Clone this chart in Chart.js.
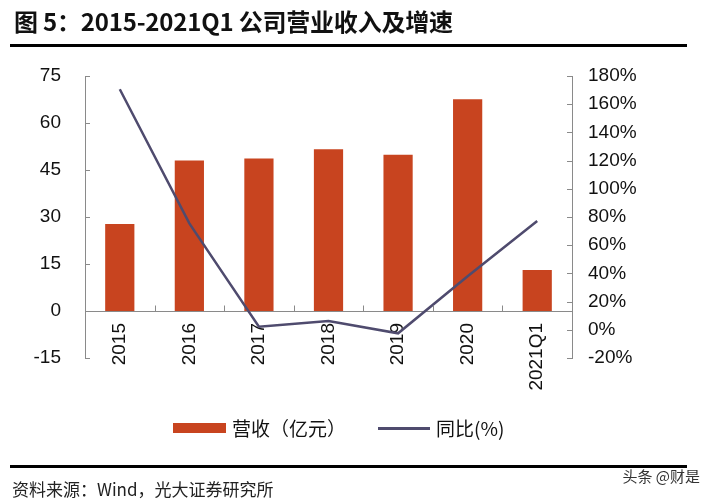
<!DOCTYPE html>
<html>
<head>
<meta charset="utf-8">
<script src="https://cdn.jsdelivr.net/npm/chart.js@4"></script>
<style>
  html, body { margin: 0; padding: 0; background: #fff; }
  body { width: 708px; height: 502px; position: relative; overflow: hidden; font-family: "Noto Sans CJK SC", "Noto Sans", sans-serif; }
  #wrap { position: absolute; left: 0; top: 0; width: 708px; height: 502px; }
  .title { position: absolute; left: 14px; top: 3px; font-size: 24px; font-weight: bold; color: #111; white-space: nowrap; letter-spacing: -0.2px; }
  .rule { position: absolute; left: 10px; width: 677px; height: 3px; background: #000; }
  .src { position: absolute; left: 12px; top: 478px; font-size: 17px; color: #222; white-space: nowrap; line-height: 22px; }
  .wm { position: absolute; right: 8px; top: 466px; font-size: 15px; color: #333; white-space: nowrap; line-height: 20px; }
  .leg { position: absolute; font-size: 19px; color: #111; white-space: nowrap; line-height: 24px; }
</style>
</head>
<body>
<div id="wrap"><canvas id="c" width="708" height="502"></canvas></div>
<div class="title">图 5：2015-2021Q1 公司营业收入及增速</div>
<div class="rule" style="top:44px;"></div>
<div class="rule" style="top:465px;"></div>
<div class="src">资料来源：Wind，光大证券研究所</div>
<div class="wm">头条 @财是</div>
<div style="position:absolute;left:173px;top:423px;width:53px;height:10px;background:#C8441F;"></div>
<div class="leg" style="left:232px;top:416px;">营收（亿元）</div>
<div style="position:absolute;left:378px;top:427px;width:52px;height:2.5px;background:#4F4B6E;"></div>
<div class="leg" style="left:436px;top:416px;">同比(%)</div>
<script>
const categories = ['2015', '2016', '2017', '2018', '2019', '2020', '2021Q1'];
const revenue = [27.8, 48.0, 48.7, 51.6, 49.9, 67.6, 13.1];
const yoyGrowth = [170.6, 75.5, 2.2, 6.2, -2.5, 38.0, 77.2];
const leftTicks = [-15, 0, 15, 30, 45, 60, 75];
const rightTicks = [-20, 0, 20, 40, 60, 80, 100, 120, 140, 160, 180];

const AXIS = '#8a8a8a';
const tickFont = { family: '"Liberation Sans", Arial, sans-serif', size: 19 };

const innerTicks = {
  id: 'innerTicks',
  afterDraw(chart) {
    const ctx = chart.ctx;
    const x = chart.scales.x, y = chart.scales.y, y1 = chart.scales.y1;
    ctx.save();
    ctx.strokeStyle = AXIS;
    ctx.lineWidth = 1;
    ctx.beginPath();
    y.ticks.forEach(t => {
      const py = Math.round(y.getPixelForValue(t.value)) + 0.5;
      ctx.moveTo(chart.chartArea.left, py); ctx.lineTo(chart.chartArea.left + 5, py);
    });
    y1.ticks.forEach(t => {
      const py = Math.round(y1.getPixelForValue(t.value)) + 0.5;
      ctx.moveTo(chart.chartArea.right, py); ctx.lineTo(chart.chartArea.right - 5, py);
    });
    const y0 = Math.round(y.getPixelForValue(0)) + 0.5;
    for (let i = 1; i < categories.length; i++) {
      const px = Math.round((x.getPixelForValue(i - 1) + x.getPixelForValue(i)) / 2) + 0.5;
      ctx.moveTo(px, y0); ctx.lineTo(px, y0 - 6);
    }
    ctx.stroke();
    ctx.restore();
  }
};

new Chart(document.getElementById('c'), {
  data: {
    labels: categories,
    datasets: [
      {
        type: 'line', label: '同比(%)', data: yoyGrowth, yAxisID: 'y1', order: 0,
        borderColor: '#4F4B6E', borderWidth: 2.5, pointRadius: 0, tension: 0, fill: false
      },
      {
        type: 'bar', label: '营收（亿元）', data: revenue, yAxisID: 'y', order: 1,
        backgroundColor: '#C8441F', categoryPercentage: 1, barPercentage: 0.42
      }
    ]
  },
  options: {
    responsive: false,
    animation: false,
    devicePixelRatio: 1,
    layout: { padding: { top: 76, bottom: 144, left: 0, right: 0 } },
    plugins: { legend: { display: false }, tooltip: { enabled: false }, title: { display: false } },
    scales: {
      x: {
        type: 'category',
        position: { y: 0 },
        offset: true,
        grid: { display: false, drawTicks: false },
        border: { display: true, color: AXIS, width: 1 },
        ticks: { color: '#111', font: tickFont, minRotation: 90, maxRotation: 90, padding: 12, autoSkip: false }
      },
      y: {
        position: 'left',
        min: -15, max: 75,
        afterBuildTicks(s) { s.ticks = leftTicks.map(v => ({ value: v })); },
        afterFit(s) { s.width = 85; },
        grid: { display: false, drawTicks: false },
        border: { display: true, color: AXIS, width: 1 },
        ticks: { color: '#111', font: tickFont, padding: 24 }
      },
      y1: {
        position: 'right',
        min: -20, max: 180,
        afterBuildTicks(s) { s.ticks = rightTicks.map(v => ({ value: v })); },
        afterFit(s) { s.width = 136; },
        grid: { display: false, drawTicks: false },
        border: { display: true, color: AXIS, width: 1 },
        ticks: { color: '#111', font: tickFont, padding: 16, callback: v => v + '%' }
      }
    }
  },
  plugins: [innerTicks]
});
</script>
</body>
</html>
